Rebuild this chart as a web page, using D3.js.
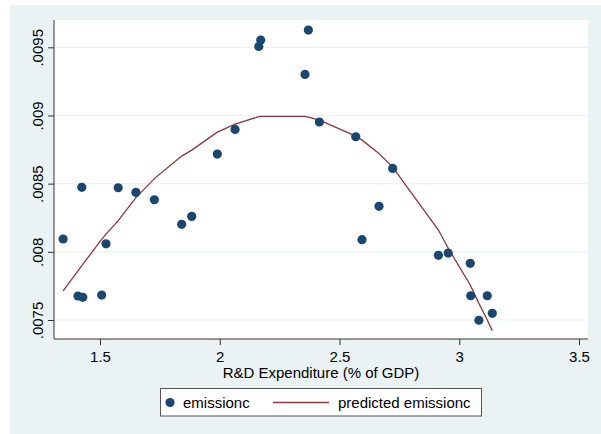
<!DOCTYPE html>
<html>
<head>
<meta charset="utf-8">
<script src="https://cdn.jsdelivr.net/npm/d3@7"></script>
<style>
  body { margin: 0; background: #fff; }
  text { font-family: "Liberation Sans", Arial, sans-serif; fill: #000; }
</style>
</head>
<body>
<svg width="601" height="434"></svg>
<script>
const svg = d3.select("svg");

// R&D expenditure (% of GDP), sorted
const rd = [1.346, 1.408, 1.424, 1.428, 1.507, 1.525, 1.576, 1.650, 1.727, 1.841,
            1.883, 1.990, 2.064, 2.163, 2.171, 2.356, 2.370, 2.416, 2.568, 2.594,
            2.665, 2.722, 2.913, 2.954, 3.046, 3.048, 3.082, 3.117, 3.138];

const emission = [.008094, .007676, .008473, .007666, .007683, .008059, .008470, .008436, .008382, .008202,
                  .008260, .008717, .008898, .009506, .009553, .009301, .009626, .008952, .008844, .008089,
                  .008334, .008612, .007974, .007991, .007916, .007678, .007498, .007678, .007549];

const predicted = [.007713, .007861, .007898, .007908, .008092, .008130, .008229, .008398, .008537, .008702,
                   .008746, .008878, .008937, .008992, .008993, .008993, .008988, .008966, .008849, .008819,
                   .008722, .008621, .008160, .008026, .007757, .007749, .007622, .007500, .007422];

const xTicks = [1.5, 2, 2.5, 3, 3.5];
const yTicks = [.0075, .008, .0085, .009, .0095];
const yLabels = [".0075", ".008", ".0085", ".009", ".0095"];

const plot = { left: 54, right: 588, top: 20, bottom: 339 };
const fs = "15px";

const x = d3.scaleLinear().domain([1.5, 3.5]).range([100, 579]);
const y = d3.scaleLinear().domain([.0075, .0095]).range([320, 47.3]);

// background
svg.append("rect").attr("x", 10).attr("y", 5).attr("width", 591).attr("height", 429)
    .attr("fill", "#eaf2f3");
svg.append("rect").attr("x", plot.left).attr("y", plot.top)
    .attr("width", plot.right - plot.left).attr("height", plot.bottom - plot.top)
    .attr("fill", "#fff");

// grid
svg.append("g").selectAll("line").data(yTicks).join("line")
    .attr("x1", plot.left).attr("x2", plot.right)
    .attr("y1", d => y(d)).attr("y2", d => y(d))
    .attr("stroke", "#eaf2f3").attr("stroke-width", 1.2);

// y axis
const yAxis = svg.append("g")
    .attr("transform", `translate(${plot.left},0)`)
    .call(d3.axisLeft(y).tickValues(yTicks).tickSize(6).tickFormat((d, i) => yLabels[i]));
yAxis.select(".domain").attr("d", `M0,${plot.top}V${plot.bottom}`);
yAxis.selectAll("text")
    .attr("x", 0).attr("dy", 0)
    .attr("transform", "translate(-11,0) rotate(-90)")
    .attr("text-anchor", "middle")
    .style("font-size", fs);

// x axis
const xAxis = svg.append("g")
    .attr("transform", `translate(0,${plot.bottom})`)
    .call(d3.axisBottom(x).tickValues(xTicks).tickSize(6).tickFormat(d3.format("")));
xAxis.select(".domain").attr("d", `M${plot.left},0H${plot.right}`);
xAxis.selectAll("text").attr("y", 12).attr("dy", "0.71em").style("font-size", fs);

svg.selectAll(".domain, .tick line").attr("stroke", "#333");

svg.append("text")
    .attr("x", (plot.left + plot.right) / 2).attr("y", 378)
    .attr("text-anchor", "middle").style("font-size", fs)
    .text("R&D Expenditure (% of GDP)");

// fitted line
const line = d3.line().x((d, i) => x(rd[i])).y(d => y(d));
svg.append("path").datum(predicted)
    .attr("d", line).attr("fill", "none")
    .attr("stroke", "#90353b").attr("stroke-width", 1.3);

// scatter
svg.append("g").selectAll("circle").data(emission).join("circle")
    .attr("cx", (d, i) => x(rd[i])).attr("cy", d => y(d))
    .attr("r", 4.6).attr("fill", "#1a476f");

// legend
const lg = svg.append("g");
lg.append("rect").attr("x", 160.5).attr("y", 388.5).attr("width", 321).attr("height", 27.5)
    .attr("fill", "#fff").attr("stroke", "#555").attr("stroke-width", 1);
lg.append("circle").attr("cx", 170).attr("cy", 402.5).attr("r", 4.6).attr("fill", "#1a476f");
lg.append("text").attr("x", 183).attr("y", 408).style("font-size", fs).text("emissionc");
lg.append("line").attr("x1", 273).attr("x2", 329).attr("y1", 402.5).attr("y2", 402.5)
    .attr("stroke", "#90353b").attr("stroke-width", 1.3);
lg.append("text").attr("x", 338).attr("y", 408).style("font-size", fs).text("predicted emissionc");
</script>
</body>
</html>
